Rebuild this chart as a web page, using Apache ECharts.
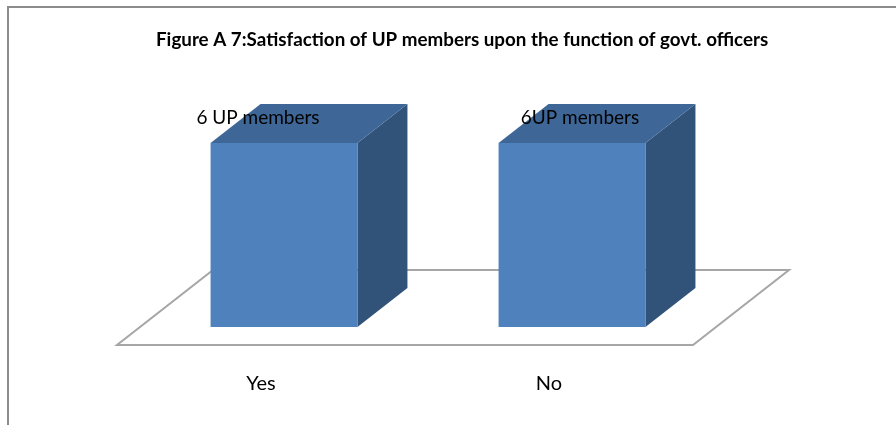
<!DOCTYPE html>
<html>
<head>
<meta charset="utf-8">
<script src="https://cdn.jsdelivr.net/npm/echarts@6/dist/echarts.min.js"></script>
<style>
  body { margin: 0; background: #fff; }
  #frame {
    position: absolute; left: 7px; top: 6px; width: 889px; height: 419px;
    border-top: 2px solid #8c8c8c; border-left: 2px solid #8c8c8c;
  }
  #chart { position: absolute; left: 0; top: 0; width: 896px; height: 425px; }
</style>
</head>
<body>
<div id="frame"></div>
<div id="chart"></div>
<script>
// data
var categories = ['Yes', 'No']
var members = [6, 6]
var barLabels = ['6 UP members', '6UP members']

// 3d look
var depth = [50, -39]       // bar depth offset (px)
var floorPad = [-23, 18]    // floor front edge in front of bar fronts
var barRatio = 0.51
var labelShift = [-51, -17] // excel put the labels a bit off-centre

var myChart = echarts.init(document.getElementById('chart'))

function renderFloor (params, api) {
  var cs = params.coordSys
  var yb = api.coord([0, 0])[1]
  var fx0 = cs.x + floorPad[0]
  var fx1 = cs.x + cs.width + floorPad[0]
  var fy = yb + floorPad[1]
  var bx = depth[0] - 2 * floorPad[0]
  var by = depth[1] - 2 * floorPad[1]
  return {
    type: 'polygon',
    shape: { points: [[fx0, fy], [fx1, fy], [fx1 + bx, fy + by], [fx0 + bx, fy + by]] },
    style: { fill: '#fff', stroke: '#a6a6a6', lineWidth: 2 }
  }
}

function renderBar (params, api) {
  var i = params.dataIndex
  var base = api.coord([api.value(0), 0])
  var top = api.coord([api.value(0), api.value(1)])
  var w = api.size([1, 0])[0] * barRatio
  var x0 = base[0] - w / 2
  var x1 = base[0] + w / 2
  var y0 = top[1]
  var y1 = base[1]
  var dx = depth[0]
  var dy = depth[1]
  return {
    type: 'group',
    children: [
      {
        type: 'polygon',
        shape: { points: [[x1, y0], [x1 + dx, y0 + dy], [x1 + dx, y1 + dy], [x1, y1]] },
        style: { fill: '#315379' }
      },
      {
        type: 'polygon',
        shape: { points: [[x0, y0], [x0 + dx, y0 + dy], [x1 + dx, y0 + dy], [x1, y0]] },
        style: { fill: '#3e6797' }
      },
      {
        type: 'rect',
        shape: { x: x0, y: y0, width: w, height: y1 - y0 },
        style: { fill: '#4f81bd' }
      },
      {
        type: 'text',
        x: base[0] + dx / 2 + labelShift[i],
        y: y0 + dy / 2 - 6,
        style: {
          text: barLabels[i],
          align: 'center',
          verticalAlign: 'middle',
          fill: '#000',
          fontFamily: 'Lato',
          fontSize: 19
        }
      }
    ]
  }
}

var options = {
  animation: false,
  title: {
    text: 'Figure A 7:Satisfaction of UP members upon the function of govt. officers',
    left: 151,
    top: 25,
    textStyle: {
      fontFamily: 'Lato',
      fontWeight: 'bold',
      fontSize: 18.8,
      color: '#000'
    }
  },
  grid: {
    left: 140,
    top: 143,
    width: 576,
    height: 184
  },
  xAxis: {
    type: 'category',
    data: categories,
    axisLine: { show: false },
    axisTick: { show: false },
    axisLabel: {
      margin: 47,
      padding: [0, 46, 0, 0],
      fontFamily: 'Lato',
      fontSize: 20,
      color: '#000'
    }
  },
  yAxis: {
    type: 'value',
    min: 0,
    max: 6,
    show: false
  },
  series: [
    {
      type: 'custom',
      z: 1,
      renderItem: renderFloor,
      data: [[0, 0]]
    },
    {
      type: 'custom',
      z: 2,
      renderItem: renderBar,
      data: categories.map(function (c, i) { return [i, members[i]] })
    }
  ]
}

myChart.setOption(options)
window.onresize = function () {
  myChart.resize()
}
</script>
</body>
</html>
